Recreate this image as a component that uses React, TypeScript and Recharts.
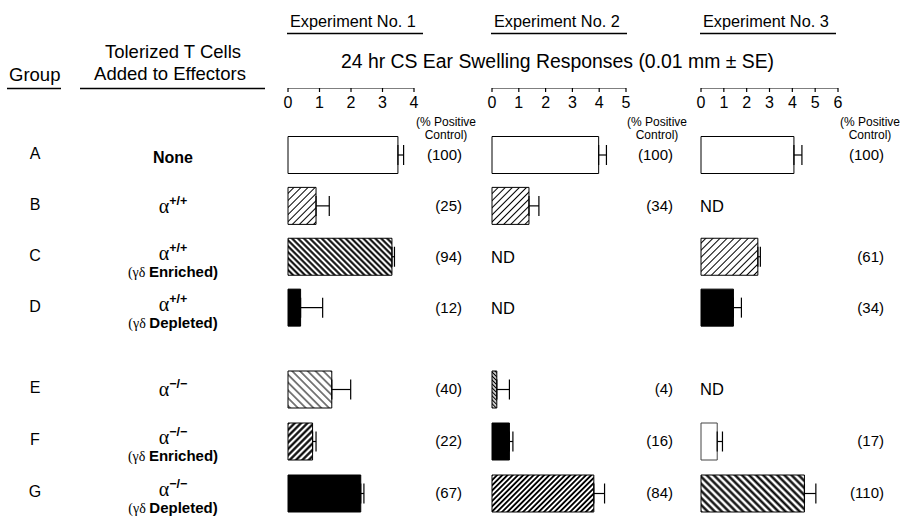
import React from "react";
import { BarChart, Bar, XAxis, YAxis, ErrorBar, Cell } from "recharts";

// Row descriptors
const GROUPS = ["A", "B", "C", "D", "E", "F", "G"];
const GENOTYPE = ["None", "+/+", "+/+", "+/+", "\u2212/\u2212", "\u2212/\u2212", "\u2212/\u2212"];
const SUBSET = ["", "", "Enriched", "Depleted", "", "Enriched", "Depleted"];

// 24 hr CS ear swelling (0.01 mm), SE, and % of positive control. null = ND
const EXP1_MEAN = [3.49, 0.89, 3.3, 0.4, 1.39, 0.78, 2.31];
const EXP1_SE = [0.18, 0.42, 0.08, 0.7, 0.6, 0.11, 0.1];
const EXP1_PCT = [100, 25, 94, 12, 40, 22, 67];

const EXP2_MEAN = [3.98, 1.38, null, null, 0.18, 0.65, 3.8];
const EXP2_SE = [0.29, 0.37, null, null, 0.47, 0.13, 0.4];
const EXP2_PCT = [100, 34, null, null, 4, 16, 84];

const EXP3_MEAN = [4.07, null, 2.49, 1.42, null, 0.71, 4.53];
const EXP3_SE = [0.35, null, 0.11, 0.35, null, 0.23, 0.5];
const EXP3_PCT = [100, null, 61, 34, null, 17, 110];

const EXP1_TICKS = [0, 1, 2, 3, 4];
const EXP2_TICKS = [0, 1, 2, 3, 4, 5];
const EXP3_TICKS = [0, 1, 2, 3, 4, 5, 6];

const FONT = '"Liberation Sans", Arial, Helvetica, sans-serif';
const SERIF = '"Liberation Serif", "DejaVu Serif", serif';

// hatch styles
const HATCH: Record<string, { angle: number; w: number; sw: number }> = {
  thinFwd: { angle: 45, w: 5, sw: 1 },
  thinBack: { angle: -45, w: 5.5, sw: 1 },
  boldBack: { angle: -45, w: 4.2, sw: 2 },
  boldFwd: { angle: 45, w: 4.5, sw: 2.2 },
  denseFwd: { angle: 45, w: 3.7, sw: 1.9 },
  boldBack2: { angle: -45, w: 5, sw: 2.3 },
  denseBack: { angle: -45, w: 2.8, sw: 1.3 },
};

const FILLS: Record<string, (string | null)[]> = {
  e1: ["white", "thinFwd", "boldBack", "black", "thinBack", "boldFwd", "black"],
  e2: ["white", "thinFwd", null, null, "denseBack", "black", "denseFwd"],
  e3: ["white", null, "thinFwd", "black", null, "white", "boldBack2"],
};

const EXPERIMENTS = [
  { id: "e1", title: "Experiment No. 1", mean: EXP1_MEAN, se: EXP1_SE, pct: EXP1_PCT, ticks: EXP1_TICKS },
  { id: "e2", title: "Experiment No. 2", mean: EXP2_MEAN, se: EXP2_SE, pct: EXP2_PCT, ticks: EXP2_TICKS },
  { id: "e3", title: "Experiment No. 3", mean: EXP3_MEAN, se: EXP3_SE, pct: EXP3_PCT, ticks: EXP3_TICKS },
];

// page layout for each experiment column
const LAYOUT: Record<string, { left: number; axisW: number; plotW: number; pctW: number; pctCx: number }> = {
  e1: { left: 8, axisW: 280, plotW: 126, pctW: 48, pctCx: 446 },
  e2: { left: 481, axisW: 11, plotW: 134, pctW: 47, pctCx: 657 },
  e3: { left: 690, axisW: 11, plotW: 137, pctW: 46, pctCx: 870 },
};

const BLOCKS = [
  { rows: [0, 1, 2, 3], top: 88, height: 245, padTop: 41.5, axis: true },
  { rows: [4, 5, 6], top: 363, height: 156, padTop: 0, axis: false },
];

const fillOf = (k: string | null) =>
  k === "white" ? "#ffffff" : k === "black" ? "#000000" : k ? `url(#${k})` : "none";

function Patterns() {
  return (
    <svg width={0} height={0} style={{ position: "absolute" }}>
      <defs>
        {Object.entries(HATCH).map(([id, h]) => (
          <pattern key={id} id={id} patternUnits="userSpaceOnUse" width={h.w} height={h.w} patternTransform={`rotate(${h.angle})`}>
            <rect width={h.w} height={h.w} fill="#fff" />
            <line x1={h.w / 2} y1={-1} x2={h.w / 2} y2={h.w + 1} stroke="#000" strokeWidth={h.sw} />
          </pattern>
        ))}
      </defs>
    </svg>
  );
}

/** Group letter + tolerized T cell description, drawn as the row axis of Exp. 1 */
function GroupTick({ x, y, payload }: any) {
  const i = GROUPS.indexOf(payload.value);
  const geno = GENOTYPE[i];
  const sub = SUBSET[i];
  const cx = x - 115;
  const lineY = sub ? y + 3 : y + 7;
  return (
    <g fontFamily={FONT} fill="#000">
      <text x={x - 253} y={y + 4} textAnchor="middle" fontSize={16}>
        {payload.value}
      </text>
      {geno === "None" ? (
        <text x={cx} y={y + 8} textAnchor="middle" fontSize={16} fontWeight="bold">
          None
        </text>
      ) : (
        <text x={cx} y={lineY} textAnchor="middle">
          <tspan fontFamily={SERIF} fontSize={20}>α</tspan>
          <tspan fontSize={12.5} fontWeight="bold" dy={-8}>{geno}</tspan>
        </text>
      )}
      {sub && (
        <text x={cx} y={y + 20} textAnchor="middle">
          <tspan fontFamily={SERIF} fontSize={14}>(γδ </tspan>
          <tspan fontSize={15} fontWeight="bold">{sub})</tspan>
        </text>
      )}
    </g>
  );
}

function makeNdTick(mean: (number | null)[]) {
  return ({ x, y, payload }: any) => {
    const i = GROUPS.indexOf(payload.value);
    if (mean[i] != null) return <g />;
    return (
      <text x={x - 1} y={y + 6} fontFamily={FONT} fontSize={16.5} fill="#000">
        ND
      </text>
    );
  };
}

function makePctTick(pct: (number | null)[], w: number) {
  return ({ x, y, payload }: any) => {
    const i = GROUPS.indexOf(payload.value);
    if (pct[i] == null) return <g />;
    return (
      <text x={x + w} y={y + 5} textAnchor="end" fontFamily={FONT} fontSize={15} fill="#000">
        {`(${pct[i]})`}
      </text>
    );
  };
}

function ExperimentBlock({ exp, block }: { exp: (typeof EXPERIMENTS)[number]; block: (typeof BLOCKS)[number] }) {
  const lay = LAYOUT[exp.id];
  const data = block.rows.map((i) => ({
    group: GROUPS[i],
    mean: exp.mean[i],
    se: exp.se[i] == null ? null : [0, exp.se[i]],
  }));
  const max = exp.ticks[exp.ticks.length - 1];
  const width = lay.axisW + lay.plotW + lay.pctW + 2;
  return (
    <div style={{ position: "absolute", left: lay.left, top: block.top }}>
      <BarChart
        width={width}
        height={block.height}
        data={data}
        layout="vertical"
        margin={{ top: 0, right: 2, bottom: 0, left: 0 }}
        barSize={37}
      >
        <XAxis
          type="number"
          domain={[0, max]}
          ticks={exp.ticks}
          interval={0}
          orientation="top"
          mirror
          hide={!block.axis}
          tickSize={4}
          tickMargin={5}
          axisLine={{ stroke: "#000", strokeWidth: 1.2 }}
          tickLine={{ stroke: "#000", strokeWidth: 1.2 }}
          tick={{ fontSize: 16, fill: "#000", fontFamily: FONT }}
        />
        <YAxis
          yAxisId="rows"
          type="category"
          dataKey="group"
          width={lay.axisW}
          padding={{ top: block.padTop, bottom: 0 }}
          axisLine={false}
          tickLine={false}
          tickSize={0}
          tickMargin={0}
          interval={0}
          tick={exp.id === "e1" ? GroupTick : makeNdTick(exp.mean)}
        />
        <YAxis
          yAxisId="pct"
          orientation="right"
          type="category"
          dataKey="group"
          width={lay.pctW}
          padding={{ top: block.padTop, bottom: 0 }}
          axisLine={false}
          tickLine={false}
          tickSize={0}
          tickMargin={0}
          interval={0}
          tick={makePctTick(exp.pct, lay.pctW)}
        />
        <Bar dataKey="mean" yAxisId="rows" isAnimationActive={false} stroke="#000" strokeWidth={1}>
          {block.rows.map((i) => (
            <Cell key={i} fill={fillOf(FILLS[exp.id][i])} stroke={exp.id === "e3" && i === 5 ? "#444" : "#000"} />
          ))}
          <ErrorBar dataKey="se" direction="x" width={10} stroke="#000" strokeWidth={1.2} isAnimationActive={false} />
        </Bar>
      </BarChart>
    </div>
  );
}

function Headings() {
  const line = { stroke: "#000", strokeWidth: 1.3 };
  return (
    <svg width={902} height={519} style={{ position: "absolute", left: 0, top: 0 }} fontFamily={FONT} fill="#000">
      <text x={9} y={81} fontSize={18.5}>Group</text>
      <line x1={7} x2={61} y1={88.5} y2={88.5} {...line} />
      <text x={173} y={58} fontSize={18.5} textAnchor="middle">Tolerized T Cells</text>
      <text x={170} y={80} fontSize={18.5} textAnchor="middle">Added to Effectors</text>
      <line x1={80} x2={265} y1={88.5} y2={88.5} {...line} />
      <text x={557.5} y={68} fontSize={19.4} textAnchor="middle">24 hr CS Ear Swelling Responses (0.01 mm ± SE)</text>
      {EXPERIMENTS.map((e) => {
        const lay = LAYOUT[e.id];
        const x0 = lay.left + lay.axisW;
        return (
          <g key={e.id}>
            <text x={x0 + 2} y={27} fontSize={16.3}>{e.title}</text>
            <line x1={x0 - 1} x2={x0 + 135} y1={33.5} y2={33.5} {...line} />
            <text x={lay.pctCx} y={125.5} fontSize={12} textAnchor="middle">(% Positive</text>
            <text x={lay.pctCx} y={139} fontSize={12} textAnchor="middle">Control)</text>
          </g>
        );
      })}
    </svg>
  );
}

export default function App() {
  return (
    <div style={{ position: "absolute", left: 0, top: 0, width: 902, height: 519, background: "#fff", overflow: "hidden" }}>
      <Patterns />
      <Headings />
      {EXPERIMENTS.map((exp) =>
        BLOCKS.map((block, b) => <ExperimentBlock key={`${exp.id}-${b}`} exp={exp} block={block} />)
      )}
    </div>
  );
}
